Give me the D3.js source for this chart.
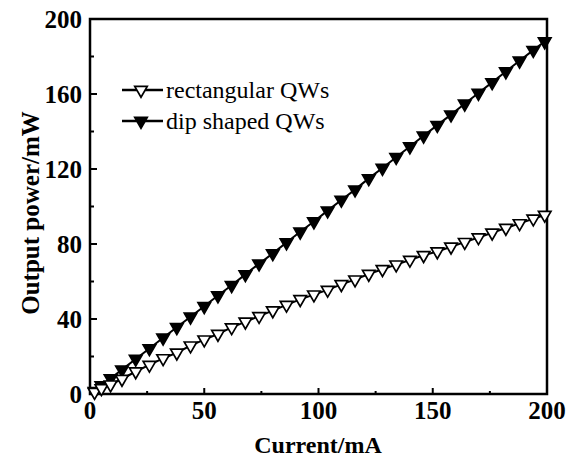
<!DOCTYPE html>
<html><head><meta charset="utf-8">
<script src="https://cdn.jsdelivr.net/npm/d3@7"></script>
<style>body{margin:0;background:#fff}svg{display:block}</style>
</head><body><svg id="c" width="567" height="460"></svg>
<script>
const current = [2, 5, 9, 14, 20, 26, 32, 38, 44, 50, 56, 62, 68, 74, 80, 86, 92, 98, 104, 110, 116, 122, 128, 134, 140, 146, 152, 158, 164, 170, 176, 182, 188, 194, 199];
const dipShaped = [1.5, 4.5, 8.3, 13, 18.7, 24.3, 30, 35.6, 41.2, 46.8, 52.5, 58, 63.8, 69.5, 75, 80.8, 86.5, 92, 97.8, 103.5, 109, 115, 120.5, 126.3, 132, 137.7, 143.4, 149, 154.8, 160.5, 166.2, 172, 177.7, 183.4, 188];
const rectangular = [1, 3, 5, 8, 12, 15.5, 19, 22, 25.8, 29, 32, 35.5, 38.5, 41.5, 44.5, 47.5, 50.5, 53, 55.5, 58.5, 61, 64, 66.5, 69, 71.5, 74, 76, 78.5, 81, 83.5, 86, 88.5, 91, 93.5, 95.5];
const xTicks = [0, 50, 100, 150, 200];
const yTicks = [0, 40, 80, 120, 160, 200];
const seriesNames = ["rectangular QWs", "dip shaped QWs"];

const svg = d3.select("#c");
const L = 90, R = 547, T = 19, B = 394;
const x = d3.scaleLinear().domain([0, 200]).range([L, R]);
const y = d3.scaleLinear().domain([0, 200]).range([B, T]);
const font = "'Liberation Serif', 'Times New Roman', serif";

// frame
svg.append("rect").attr("x", L).attr("y", T).attr("width", R - L).attr("height", B - T)
  .attr("fill", "none").attr("stroke", "#000").attr("stroke-width", 2.5);

// ticks (inward)
const xMinor = d3.range(25, 200, 50);
const yMinor = d3.range(20, 200, 40);
svg.selectAll(".xt").data(xTicks.slice(1, -1)).join("line")
  .attr("x1", d => x(d)).attr("x2", d => x(d)).attr("y1", B).attr("y2", B - 6)
  .attr("stroke", "#000").attr("stroke-width", 2);
svg.selectAll(".xm").data(xMinor).join("line")
  .attr("x1", d => x(d)).attr("x2", d => x(d)).attr("y1", B).attr("y2", B - 3)
  .attr("stroke", "#000").attr("stroke-width", 2);
svg.selectAll(".yt").data(yTicks.slice(1, -1)).join("line")
  .attr("y1", d => y(d)).attr("y2", d => y(d)).attr("x1", L).attr("x2", L + 7)
  .attr("stroke", "#000").attr("stroke-width", 2);
svg.selectAll(".ym").data(yMinor).join("line")
  .attr("y1", d => y(d)).attr("y2", d => y(d)).attr("x1", L).attr("x2", L + 4)
  .attr("stroke", "#000").attr("stroke-width", 2);

// tick labels
svg.selectAll(".xl").data(xTicks).join("text")
  .attr("x", d => x(d)).attr("y", 419).attr("text-anchor", "middle")
  .attr("font-family", font).attr("font-size", 25).attr("font-weight", "bold")
  .text(d => d);
svg.selectAll(".yl").data(yTicks).join("text")
  .attr("x", 82).attr("y", d => y(d)).attr("dy", "0.35em").attr("text-anchor", "end")
  .attr("font-family", font).attr("font-size", 25).attr("font-weight", "bold")
  .text(d => d);

// axis titles
svg.append("text").attr("x", 318).attr("y", 453).attr("text-anchor", "middle")
  .attr("font-family", font).attr("font-size", 24).attr("font-weight", "bold")
  .text("Current/mA");
svg.append("text").attr("transform", "translate(30,213) rotate(-90)")
  .attr("text-anchor", "middle").attr("dy", "0.35em")
  .attr("font-family", font).attr("font-size", 25).attr("font-weight", "bold")
  .text("Output power/mW");

const tri = d3.symbol().type(d3.symbolTriangle).size(68);
const line = d3.line().x(d => x(d[0])).y(d => y(d[1]));

const dipPts = current.map((c, i) => [c, dipShaped[i]]);
const rectPts = current.map((c, i) => [c, rectangular[i]]);

function drawSeries(pts, filled) {
  svg.append("path").datum(pts).attr("d", line).attr("fill", "none")
    .attr("stroke", "#000").attr("stroke-width", 2);
  svg.append("g").selectAll("path").data(pts).join("path")
    .attr("d", tri)
    .attr("transform", d => `translate(${x(d[0])},${y(d[1])}) rotate(180)`)
    .attr("fill", filled ? "#000" : "#fff").attr("stroke", "#000").attr("stroke-width", 1.7);
}
drawSeries(dipPts, true);
drawSeries(rectPts, false);

// legend
const leg = [{ name: seriesNames[0], filled: false, y: 90 }, { name: seriesNames[1], filled: true, y: 121 }];
leg.forEach(l => {
  svg.append("line").attr("x1", 122).attr("x2", 163).attr("y1", l.y).attr("y2", l.y)
    .attr("stroke", "#000").attr("stroke-width", 2.4);
  svg.append("path").attr("d", tri)
    .attr("transform", `translate(141,${l.y}) rotate(180)`)
    .attr("fill", l.filled ? "#000" : "#fff").attr("stroke", "#000").attr("stroke-width", 1.7);
  svg.append("text").attr("x", 166).attr("y", l.y).attr("dy", "0.32em")
    .attr("font-family", font).attr("font-size", 24)
    .text(l.name);
});
</script></body></html>
